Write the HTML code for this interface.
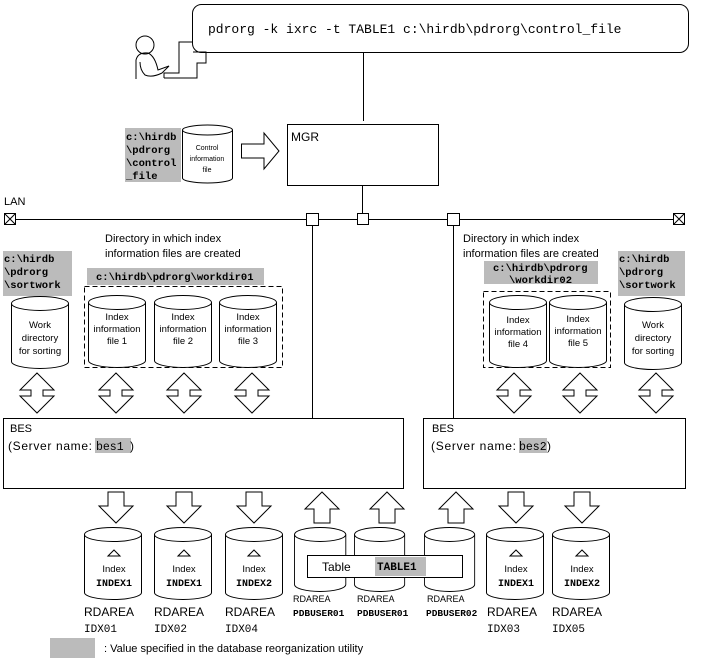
<!DOCTYPE html>
<html><head><meta charset="utf-8"><style>
body{margin:0;background:#fff}
svg{display:block}
text{font-family:"Liberation Sans",sans-serif;fill:#000}
.m{font-family:"Liberation Mono",monospace}
</style></head><body>
<svg width="723" height="663" viewBox="0 0 723 663" xmlns="http://www.w3.org/2000/svg">
<defs>
<g id="dbl"><path d="M0,-20 L17,-3 L6,-3 L6,3 L17,3 L0,20 L-17,3 L-6,3 L-6,-3 L-17,-3 Z" fill="#fff" stroke="#000"/></g>
<g id="dn"><path d="M-8,0 L8,0 L8,14 L17,14 L0,31 L-17,14 L-8,14 Z" fill="#fff" stroke="#000"/></g>
<g id="up"><path d="M-8,31 L8,31 L8,17 L17,17 L0,0 L-17,17 L-8,17 Z" fill="#fff" stroke="#000"/></g>
<g id="c1"><path d="M0,6 L0,64 A28.5,7 0 0 0 57,64 L57,6"/><ellipse cx="28.5" cy="6" rx="28.5" ry="7"/></g>
<g id="c2"><path d="M0,6 L0,56 A28.5,7 0 0 0 57,56 L57,6"/><ellipse cx="28.5" cy="6" rx="28.5" ry="7"/></g>
</defs>
<g fill="none" stroke="#000" stroke-width="1">
<rect x="192.5" y="4.5" width="496" height="48" rx="9"/>
<circle cx="145" cy="45" r="9"/>
<path d="M136,79 L136,60 Q138,52 148,53 Q155,56 158,70 L169,66 L162,73 Q152,78 145,75 Q140,70 140,62"/>
<path d="M164,78 L164,73 L179,73 L179,42 L192,42 M193,52 L206,52 L206,63 L197,63 L197,78 L164,78"/>
<line x1="363.5" y1="52" x2="363.5" y2="121"/>
<rect x="287.5" y="124.5" width="151" height="61"/>
<path d="M182.5,130 L182.5,178 A25,5 0 0 0 232.5,178 L232.5,130"/>
<ellipse cx="207.5" cy="130" rx="25" ry="5"/>
<path d="M241.5,144 L264,144 L264,133 L279,151 L264,169 L264,158 L241.5,158 Z"/>
<line x1="15" y1="219.5" x2="673" y2="219.5"/>
<rect x="4.5" y="213.5" width="11" height="11"/><path d="M4.5,213.5 L15.5,224.5 M15.5,213.5 L4.5,224.5"/>
<rect x="673.5" y="213.5" width="11" height="11"/><path d="M673.5,213.5 L684.5,224.5 M684.5,213.5 L673.5,224.5"/>
<rect x="306.5" y="213.5" width="12" height="12" fill="#fff"/>
<rect x="357.5" y="213.5" width="11" height="11" fill="#fff"/>
<rect x="447.5" y="213.5" width="12" height="12" fill="#fff"/>
<line x1="312.5" y1="226" x2="312.5" y2="418"/>
<line x1="362.5" y1="186" x2="362.5" y2="213"/>
<line x1="453.5" y1="226" x2="453.5" y2="418"/>
<rect x="3.5" y="418.5" width="400" height="70"/>
<rect x="423.5" y="418.5" width="262" height="70"/>
<rect x="84.5" y="286.5" width="198" height="81" stroke-dasharray="5,3"/>
<rect x="483.5" y="291.5" width="127" height="76" stroke-dasharray="5,3"/>
</g>
<g fill="#bbb">
<rect x="125" y="128" width="56" height="54"/>
<rect x="3" y="251" width="69" height="45"/>
<rect x="87" y="268" width="177" height="17"/>
<rect x="484" y="261" width="114" height="23"/>
<rect x="618" y="251" width="67" height="45"/>
<rect x="50" y="638" width="45" height="20"/>
</g>
<g fill="#fff" stroke="#000">
<use href="#c1" x="11.5" y="297.5"/>
<use href="#c1" x="88.5" y="296.5"/>
<use href="#c1" x="154.5" y="296.5"/>
<use href="#c1" x="219.5" y="296.5"/>
<use href="#c1" x="489.5" y="296.5"/>
<use href="#c1" x="549.5" y="296.5"/>
<use href="#c1" x="624.5" y="298.5"/>
<use href="#c1" x="84.5" y="528.5"/>
<use href="#c1" x="154.5" y="528.5"/>
<use href="#c1" x="225.5" y="528.5"/>
<g transform="translate(294.5,528.5) scale(0.9,1)"><use href="#c2"/></g>
<g transform="translate(354.5,528.5) scale(0.88,1)"><use href="#c2"/></g>
<g transform="translate(424.5,528.5) scale(0.88,1)"><use href="#c2"/></g>
<use href="#c1" x="486.5" y="528.5"/>
<use href="#c1" x="552.5" y="528.5"/>
<rect x="307.5" y="555.5" width="155" height="22"/>
</g>
<rect x="375" y="557" width="51" height="19" fill="#bbb"/>
<use href="#dbl" x="37" y="393"/><use href="#dbl" x="116" y="393"/><use href="#dbl" x="184" y="393"/><use href="#dbl" x="252" y="393"/>
<use href="#dbl" x="514" y="393"/><use href="#dbl" x="580" y="393"/><use href="#dbl" x="656" y="393"/>
<use href="#dn" x="116" y="492"/><use href="#dn" x="184" y="492"/><use href="#dn" x="254" y="492"/>
<use href="#up" x="322" y="492"/><use href="#up" x="387" y="492"/><use href="#up" x="456" y="492"/>
<use href="#dn" x="516" y="492"/><use href="#dn" x="582" y="492"/>
<g fill="#fff" stroke="#000">
<path d="M108,556 L114,550 L120,556 Z"/><path d="M178,556 L184,550 L190,556 Z"/><path d="M248,556 L254,550 L260,556 Z"/>
<path d="M510,556 L516,550 L522,556 Z"/><path d="M576,556 L582,550 L588,556 Z"/>
</g>
<text x="208" y="33" class="m" font-size="13">pdrorg -k ixrc -t TABLE1 c:\hirdb\pdrorg\control_file</text>
<text x="291" y="141" font-size="12">MGR</text>
<g font-size="10.5" font-weight="bold">
<text x="126" y="140" class="m">c:\hirdb</text><text x="126" y="153" class="m">\pdrorg</text><text x="126" y="166" class="m">\control</text><text x="126" y="179" class="m">_file</text>
<text x="4" y="262" class="m">c:\hirdb</text><text x="4" y="275" class="m">\pdrorg</text><text x="4" y="288" class="m">\sortwork</text>
<text x="619" y="262" class="m">c:\hirdb</text><text x="619" y="275" class="m">\pdrorg</text><text x="619" y="288" class="m">\sortwork</text>
<text x="96" y="280" class="m">c:\hirdb\pdrorg\workdir01</text>
<text x="493" y="271" class="m">c:\hirdb\pdrorg</text><text x="509" y="283" class="m">\workdir02</text>
</g>
<g font-size="7" text-anchor="middle">
<text x="207" y="150">Control</text><text x="207" y="161">information</text><text x="207" y="172">file</text>
</g>
<text x="4" y="205" font-size="11">LAN</text>
<g font-size="11">
<text x="105" y="242">Directory in which index</text><text x="105" y="257">information files are created</text>
<text x="463" y="242">Directory in which index</text><text x="463" y="257">information files are created</text>
<text x="10" y="432">BES</text>
<text x="432" y="432">BES</text>
</g>
<rect x="95" y="438" width="36" height="15" fill="#bbb"/>
<rect x="519" y="438" width="28" height="15" fill="#bbb"/>
<text x="8" y="450" font-size="12" textLength="84">(Server name:</text>
<text x="96" y="450" class="m" font-size="11.5">bes1</text><text x="130" y="450" font-size="12">)</text>
<text x="431" y="450" font-size="12" textLength="85">(Server name:</text>
<text x="519" y="450" class="m" font-size="11.5">bes2</text><text x="547" y="450" font-size="12">)</text>
<g font-size="9.5" text-anchor="middle">
<text x="40" y="328">Work</text><text x="40" y="341">directory</text><text x="40" y="354">for sorting</text>
<text x="653" y="328">Work</text><text x="653" y="341">directory</text><text x="653" y="354">for sorting</text>
<text x="117" y="320">Index</text><text x="117" y="332">information</text><text x="117" y="344">file 1</text>
<text x="183" y="320">Index</text><text x="183" y="332">information</text><text x="183" y="344">file 2</text>
<text x="248" y="320">Index</text><text x="248" y="332">information</text><text x="248" y="344">file 3</text>
<text x="518" y="323">Index</text><text x="518" y="335">information</text><text x="518" y="347">file 4</text>
<text x="578" y="322">Index</text><text x="578" y="334">information</text><text x="578" y="346">file 5</text>
<text x="114" y="572">Index</text><text x="184" y="572">Index</text><text x="254" y="572">Index</text>
<text x="516" y="572">Index</text><text x="582" y="572">Index</text>
</g>
<g font-size="10" text-anchor="middle" font-weight="bold">
<text x="114" y="586" class="m">INDEX1</text><text x="184" y="586" class="m">INDEX1</text><text x="254" y="586" class="m">INDEX2</text>
<text x="516" y="586" class="m">INDEX1</text><text x="582" y="586" class="m">INDEX2</text>
</g>
<text x="322" y="571" font-size="12">Table</text>
<text x="377" y="570" class="m" font-size="11" font-weight="bold">TABLE1</text>
<g font-size="9">
<text x="293" y="602">RDAREA</text><text x="357" y="602">RDAREA</text><text x="427" y="602">RDAREA</text>
</g>
<g font-size="9.5" font-weight="bold">
<text x="293" y="616" class="m">PDBUSER01</text><text x="357" y="616" class="m">PDBUSER01</text><text x="426" y="616" class="m">PDBUSER02</text>
</g>
<g font-size="12">
<text x="84" y="616">RDAREA</text><text x="154" y="616">RDAREA</text><text x="225" y="616">RDAREA</text><text x="487" y="616">RDAREA</text><text x="552" y="616">RDAREA</text>
</g>
<g font-size="11">
<text x="84" y="632" class="m">IDX01</text><text x="154" y="632" class="m">IDX02</text><text x="225" y="632" class="m">IDX04</text><text x="487" y="632" class="m">IDX03</text><text x="552" y="632" class="m">IDX05</text>
</g>
<text x="104" y="652" font-size="11">: Value specified in the database reorganization utility</text>
</svg>
</body></html>
